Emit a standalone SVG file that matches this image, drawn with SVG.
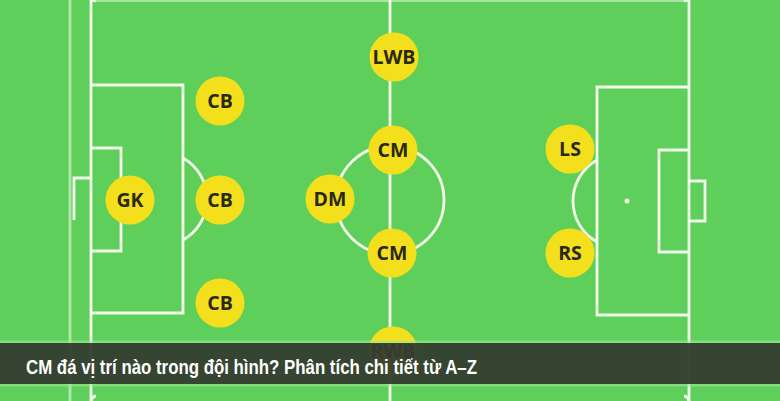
<svg xmlns="http://www.w3.org/2000/svg" width="780" height="401" viewBox="0 0 780 401">
<style>
.ln{fill:none;stroke:#f2fbea;stroke-width:2.8}
.p circle{fill:#f3df1b}
.p text{font-family:"Open Sans","DejaVu Sans",sans-serif;font-weight:700;font-size:19.5px;fill:#2a2818;text-anchor:middle}
.title{font-family:"Liberation Sans",Arial,sans-serif;font-weight:700;font-size:20px;fill:#ffffff}
</style>
<rect x="0" y="0" width="780" height="401" fill="#5fcf5b"/>
<g id="pitch">
<line class="ln" x1="70" y1="0" x2="70" y2="401" stroke-opacity="0.55" stroke-width="2"/>
<line class="ln" x1="91" y1="0" x2="91" y2="401"/>
<line class="ln" x1="689" y1="0" x2="689" y2="401"/>
<line class="ln" x1="91" y1="0.5" x2="689" y2="0.5" stroke-opacity="0.5"/>
<line class="ln" x1="390" y1="0" x2="390" y2="401"/>
<circle class="ln" cx="390" cy="200" r="54"/>
<path class="ln" d="M91 -4 A6 6 0 0 0 96 1"/>
<path class="ln" d="M689 -4 A6 6 0 0 1 684 1"/>
<path class="ln" d="M91 401 A6 6 0 0 1 96 396"/>
<path class="ln" d="M689 401 A6 6 0 0 0 684 396"/>
<path class="ln" d="M91 85 H183 V313 H91"/>
<path class="ln" d="M91 148 H121 V251 H91"/>
<path class="ln" d="M74 220 V178 H91"/>
<path class="ln" d="M183 158 A47 47 0 0 1 183 240"/>
<path class="ln" d="M689 87 H597 V315 H689"/>
<path class="ln" d="M689 150 H659 V252 H689"/>
<path class="ln" d="M689 181 H705 V221 H689"/>
<path class="ln" d="M597 160 A47 47 0 0 0 597 242"/>
<circle cx="627" cy="201" r="2.5" fill="#f2fbea"/>
</g>
<g id="connectors"></g>
<g id="gk" class="p"><circle cx="130" cy="200" r="24.5"/><text x="130" y="207">GK</text></g>
<g id="cb1" class="p"><circle cx="220" cy="101" r="24.5"/><text x="220" y="108">CB</text></g>
<g id="cb2" class="p"><circle cx="220" cy="200" r="24.5"/><text x="220" y="207">CB</text></g>
<g id="cb3" class="p"><circle cx="220" cy="303" r="24.5"/><text x="220" y="310">CB</text></g>
<g id="dm" class="p"><circle cx="330" cy="199" r="24.5"/><text x="330" y="206">DM</text></g>
<g id="lwb" class="p"><circle cx="394" cy="57" r="24.5"/><text x="394" y="64">LWB</text></g>
<g id="cm1" class="p"><circle cx="393" cy="150" r="24.5"/><text x="393" y="157">CM</text></g>
<g id="cm2" class="p"><circle cx="392" cy="253" r="24.5"/><text x="392" y="260">CM</text></g>
<g id="rwb" class="p"><circle cx="393" cy="351" r="24.5"/><text x="393" y="358">RWB</text></g>
<g id="ls" class="p"><circle cx="570" cy="149" r="24.5"/><text x="570" y="156">LS</text></g>
<g id="rs" class="p"><circle cx="570" cy="253" r="24.5"/><text x="570" y="260">RS</text></g>
<g id="banner">
<rect x="0" y="340.5" width="780" height="46" fill="#9be896" opacity="0.6"/>
<rect x="0" y="343" width="780" height="41" fill="#2b2f28" opacity="0.88"/>
<text class="title" x="26" y="374" textLength="451" lengthAdjust="spacingAndGlyphs">CM đá vị trí nào trong đội hình? Phân tích chi tiết từ A–Z</text>
</g>
</svg>
